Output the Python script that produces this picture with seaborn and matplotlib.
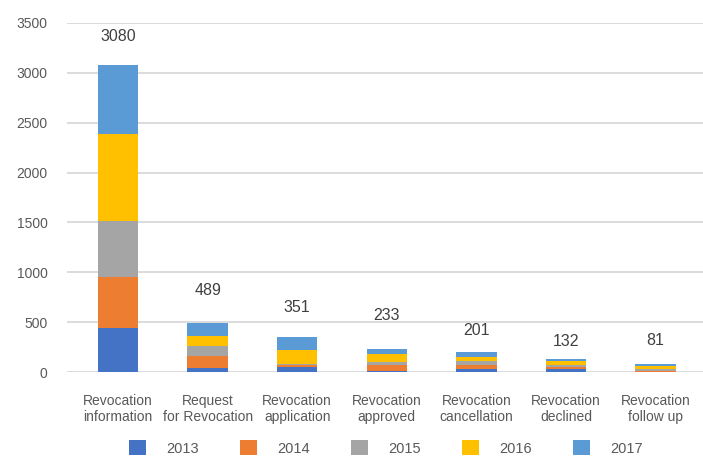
import matplotlib
matplotlib.use("Agg")
import matplotlib.pyplot as plt
from matplotlib.patches import Patch
import numpy as np
import pandas as pd
import seaborn as sns

categories = [
    "Revocation\ninformation",
    "Request\nfor Revocation",
    "Revocation\napplication",
    "Revocation\napproved",
    "Revocation\ncancellation",
    "Revocation\ndeclined",
    "Revocation\nfollow up",
]
years = ["2013", "2014", "2015", "2016", "2017"]
v2013 = [444, 45, 50, 10, 35, 32, 2]
v2014 = [509, 120, 17, 57, 40, 20, 12]
v2015 = [561, 100, 13, 33, 35, 18, 15]
v2016 = [876, 100, 140, 80, 45, 36, 32]
v2017 = [690, 124, 131, 53, 46, 26, 20]
totals = [3080, 489, 351, 233, 201, 132, 81]
# heights at which the total labels sit
label_y = [3360, 822, 642, 562, 421, 301, 311]

colors = ["#4472C4", "#ED7D31", "#A5A5A5", "#FFC000", "#5B9BD5"]

series = [v2013, v2014, v2015, v2016, v2017]
cum = np.cumsum(np.array(series), axis=0)
long = pd.DataFrame(
    [(c, y, cum[j, i]) for j, y in enumerate(years) for i, c in enumerate(categories)],
    columns=["category", "year", "cumulative"],
)

sns.set_theme(style="white")
plt.rcParams["font.family"] = ["Liberation Sans", "DejaVu Sans"]

fig = plt.figure(figsize=(7.03, 4.57), dpi=100)
ax = fig.add_axes([67 / 703, 85 / 457, 636 / 703, 349 / 457])

# stacked bars: draw cumulative totals from the top series down
for j in range(len(years) - 1, -1, -1):
    sub = long[long["year"] == years[j]]
    sns.barplot(data=sub, x="category", y="cumulative", order=categories,
                color=colors[j], saturation=1, width=0.45, ax=ax,
                edgecolor="none", linewidth=0)

for i, (t, ly) in enumerate(zip(totals, label_y)):
    ax.text(i, ly, str(t), ha="center", va="center", fontsize=11.5, color="#404040")

ax.set_ylim(0, 3500)
ax.set_xlim(-0.569, 6.529)
ax.set_yticks(range(0, 3501, 500))
ax.grid(axis="y", color="#d9d9d9", linewidth=1.3)
ax.set_axisbelow(True)
for s in ax.spines.values():
    s.set_visible(False)
ax.set_xlabel("")
ax.set_ylabel("")
ax.tick_params(axis="y", labelsize=10, labelcolor="#595959", length=0, pad=14)
ax.tick_params(axis="x", labelsize=10, labelcolor="#595959", length=0, pad=16)
for lbl in ax.get_xticklabels():
    lbl.set_linespacing(1.15)

handles = [Patch(facecolor=c, edgecolor="none", label=y) for c, y in zip(colors, years)]
fig.legend(handles=handles, loc="center", bbox_to_anchor=(386 / 703, 9 / 457), ncol=5,
           frameon=False, fontsize=10.5, labelcolor="#595959",
           handlelength=1.17, handleheight=1.17, handletextpad=1.37, columnspacing=2.84)

fig.savefig("out.png", dpi=100)
